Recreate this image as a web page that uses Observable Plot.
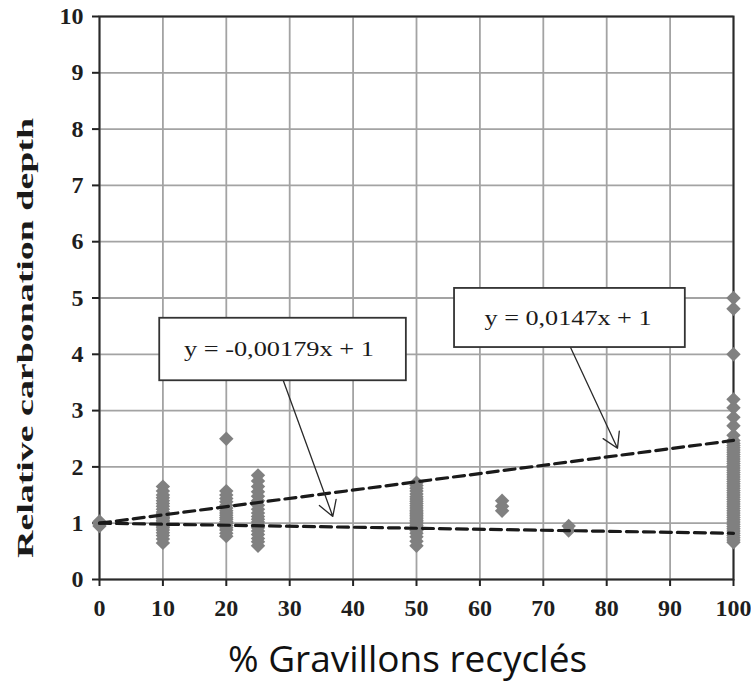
<!DOCTYPE html>
<html>
<head>
<meta charset="utf-8">
<script src="https://cdn.jsdelivr.net/npm/d3@7"></script>
<script src="https://cdn.jsdelivr.net/npm/@observablehq/plot@0.6"></script>
<style>
  html, body { margin: 0; padding: 0; background: #fff; }
  #wrap { position: relative; width: 751px; height: 688px; }
  #xtitle {
    position: absolute; left: 0; top: 640px; width: 815px; line-height: 36px;
    text-align: center; font-family: "Open Sans", sans-serif; font-size: 37px; color: #111;
  }
</style>
</head>
<body>
<div id="wrap">
  <div id="chart"></div>
  <div id="xtitle">% Gravillons recyclés</div>
</div>
<script>
// Relative carbonation depth by recycled aggregate replacement (%)
const depth0 = [0.95, 1.0, 1.03, 1.0];
const depth10 = [0.65, 0.72, 0.78, 0.83, 0.88, 0.92, 0.95, 0.98, 1.0, 1.02, 1.05, 1.08, 1.1, 1.13, 1.17, 1.2, 1.25, 1.3, 1.35, 1.4, 1.45, 1.5, 1.57, 1.65];
const depth20 = [0.77, 0.82, 0.88, 0.92, 0.96, 1.0, 1.03, 1.07, 1.1, 1.14, 1.18, 1.22, 1.27, 1.32, 1.38, 1.44, 1.5, 1.57, 2.5];
const depth25 = [0.6, 0.67, 0.73, 0.8, 0.86, 0.92, 0.97, 1.02, 1.07, 1.12, 1.18, 1.25, 1.32, 1.4, 1.48, 1.56, 1.65, 1.75, 1.85];
const depth50 = [0.6, 0.68, 0.76, 0.82, 0.87, 0.9, 0.93, 0.96, 0.99, 1.02, 1.05, 1.08, 1.11, 1.14, 1.17, 1.2, 1.23, 1.27, 1.31, 1.35, 1.39, 1.43, 1.47, 1.52, 1.57, 1.62, 1.67, 1.72];
const depth63 = [1.22, 1.3, 1.4];
const depth74 = [0.87, 0.95];
const depth100 = [0.66, 0.7, 0.74, 0.78, 0.82, 0.86, 0.9, 0.94, 0.98, 1.02, 1.06, 1.1, 1.14, 1.18, 1.22, 1.26, 1.3, 1.34, 1.38, 1.42, 1.46, 1.5, 1.54, 1.58, 1.62, 1.66, 1.7, 1.74, 1.78, 1.82, 1.86, 1.9, 1.94, 1.98, 2.02, 2.06, 2.1, 2.14, 2.18, 2.22, 2.26, 2.3, 2.34, 2.38, 2.42, 2.47, 2.56, 2.73, 2.88, 3.05, 3.2, 4.0, 4.81, 5.0];

const replacement = [0, 10, 20, 25, 50, 63.5, 74, 100];
const groups = [depth0, depth10, depth20, depth25, depth50, depth63, depth74, depth100];

// Fitted trends: y = a·x + 1
const slopes = [0.0147, -0.00179];
const equations = ["y = 0,0147x + 1", "y = -0,00179x + 1"];

// Equation boxes (data coords) and their arrow endpoints
const boxX1 = [56.0, 9.5], boxX2 = [92.4, 48.4];
const boxY1 = [4.12, 3.53], boxY2 = [5.17, 4.64];
const labelX = [73.9, 28.3], labelY = [4.64, 4.09];
const arrowX1 = [74.3, 29.0], arrowY1 = [4.12, 3.53];
const arrowX2 = [81.7, 36.8], arrowY2 = [2.33, 1.12];

const xTicks = [0, 10, 20, 30, 40, 50, 60, 70, 80, 90, 100];
const yTicks = [0, 1, 2, 3, 4, 5, 6, 7, 8, 9, 10];
const yLabel = "Relative carbonation depth";

const points = groups.flatMap((g, i) => g.map(v => ({x: replacement[i], y: v})));
const trendLines = slopes.flatMap((a, k) => [0, 100].map(x => ({k, x, y: a * x + 1})));
const boxes = equations.map((t, i) => ({
  t, x1: boxX1[i], x2: boxX2[i], y1: boxY1[i], y2: boxY2[i], lx: labelX[i], ly: labelY[i],
  ax1: arrowX1[i], ay1: arrowY1[i], ax2: arrowX2[i], ay2: arrowY2[i]
}));

const serif = "'Liberation Serif', 'Times New Roman', serif";
const intFormat = d3.format("d");

const chart = Plot.plot({
  width: 751,
  height: 620,
  marginLeft: 99,
  marginRight: 18,
  marginTop: 16,
  marginBottom: 41,
  style: {fontFamily: serif, fontSize: "23px", background: "#fff", overflow: "visible"},
  x: {domain: [0, 100]},
  y: {domain: [0, 10]},
  marks: [
    Plot.gridX(xTicks, {stroke: "#a3a3a3", strokeOpacity: 1, strokeWidth: 1.8}),
    Plot.gridY(yTicks, {stroke: "#a3a3a3", strokeOpacity: 1, strokeWidth: 1.8}),
    Plot.axisX(xTicks, {tickSize: 7, tickPadding: 12, fontWeight: "bold", fill: "#1e1e1e", stroke: "#222", strokeWidth: 2, tickFormat: intFormat, label: null}),
    Plot.axisY(yTicks, {tickSize: 7, tickPadding: 9, fontWeight: "bold", fill: "#1e1e1e", stroke: "#222", strokeWidth: 2, tickFormat: intFormat, label: null}),
    Plot.frame({stroke: "#2a2a2a", strokeWidth: 2}),
    Plot.dot(points, {x: "x", y: "y", symbol: "diamond2", r: 6.5, fill: "#808080", stroke: "none"}),
    Plot.line(trendLines, {x: "x", y: "y", z: "k", stroke: "#1a1a1a", strokeWidth: 3.2, strokeDasharray: "11,6"}),
    Plot.arrow(boxes, {x1: "ax1", y1: "ay1", x2: "ax2", y2: "ay2", stroke: "#2a2a2a", strokeWidth: 1.3, headLength: 20, headAngle: 62}),
    Plot.rect(boxes, {x1: "x1", x2: "x2", y1: "y1", y2: "y2", fill: "#fff", stroke: "#333", strokeWidth: 1.8}),
    Plot.text(boxes, {x: "lx", y: "ly", text: "t", fontSize: 22, fill: "#1a1a1a", fontFamily: serif}),
    Plot.text([yLabel], {x: -11.7, y: 4.29, text: d => d, rotate: -90, fontSize: 24, fontWeight: "bold", fill: "#1a1a1a", fontFamily: serif})
  ]
});

// Tick labels: slightly wide bold serif
d3.select(chart).selectAll('g[aria-label$="tick label"]').attr("font-size", 24).style("font-size", "24px");

// Stretch selected labels to their set widths
const widths = new Map([[yLabel, 440], [equations[0], 167], [equations[1], 190]]);
d3.select(chart).selectAll("text").each(function () {
  const w = widths.get(this.textContent);
  if (w) { this.setAttribute("textLength", w); this.setAttribute("lengthAdjust", "spacingAndGlyphs"); }
});

document.getElementById("chart").appendChild(chart);
</script>
</body>
</html>
